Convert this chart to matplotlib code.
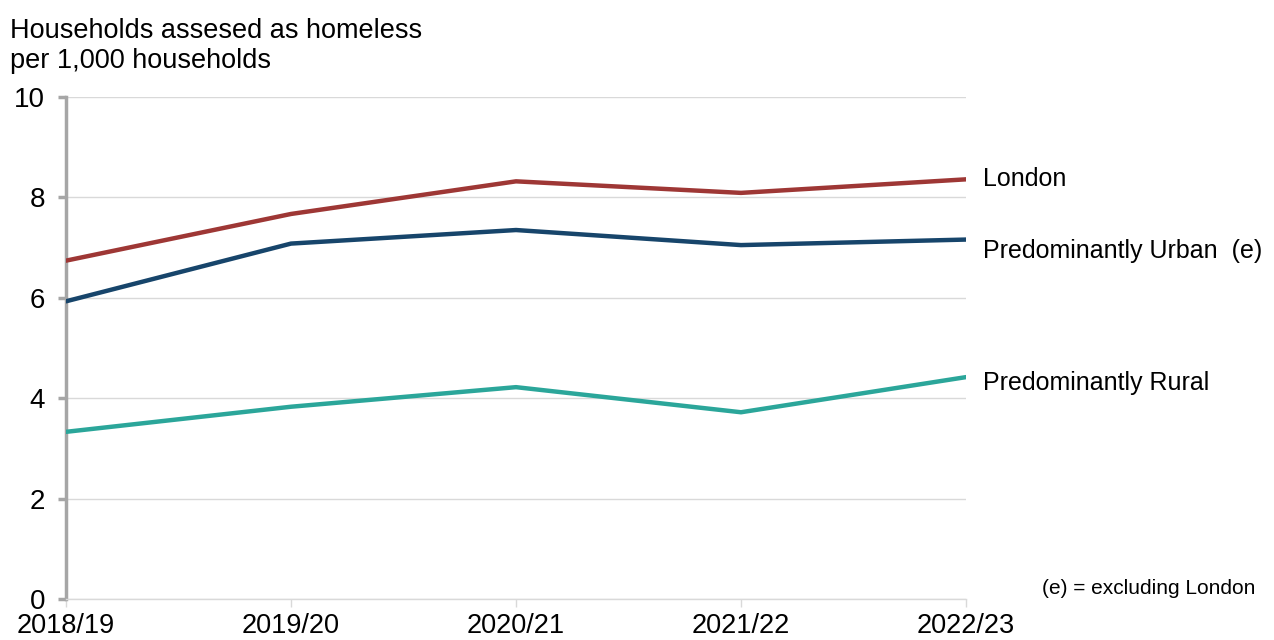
import matplotlib.pyplot as plt

plt.rcParams['font.family'] = ['Liberation Sans', 'DejaVu Sans']

# data
years = ["2018/19", "2019/20", "2020/21", "2021/22", "2022/23"]
london = [6.74, 7.67, 8.32, 8.09, 8.36]
urban = [5.93, 7.08, 7.35, 7.05, 7.16]
rural = [3.33, 3.83, 4.22, 3.72, 4.42]

series = [
    ("London", london, "#9E3735", 0),
    ("Predominantly Urban  (e)", urban, "#17456B", -8),
    ("Predominantly Rural", rural, "#2BA69A", -4),
]

fig = plt.figure(figsize=(12.74, 6.4), dpi=100)
ax = fig.add_axes([66 / 1274, 1 - 599 / 640, 900 / 1274, 502 / 640])

x = list(range(len(years)))
for name, vals, col, dy in series:
    ax.plot(x, vals, color=col, lw=3.2, solid_capstyle='round', zorder=3)
    ax.annotate(name, xy=(x[-1], vals[-1]), xytext=(12, dy), textcoords='offset points',
                va='center', ha='left', fontsize=18, color='black', annotation_clip=False)

ax.set_xlim(0, len(years) - 1)
ax.set_ylim(0, 10)
ax.set_yticks([0, 2, 4, 6, 8, 10])
ax.set_xticks(x)
ax.set_xticklabels(years)
ax.grid(axis='y', color='#D9D9D9', lw=1)
ax.set_axisbelow(True)

for s in ['top', 'right']:
    ax.spines[s].set_visible(False)
ax.spines['left'].set_color('#A6A6A6')
ax.spines['left'].set_linewidth(2.5)
ax.spines['bottom'].set_color('#D9D9D9')
ax.spines['bottom'].set_linewidth(1)
ax.tick_params(axis='y', colors='#A6A6A6', width=2.5, length=6, labelcolor='black',
               labelsize=20, pad=9)
ax.tick_params(axis='x', colors='#D9D9D9', width=1, length=6, labelcolor='black',
               labelsize=19.5, pad=4)

fig.text(10 / 1274, 1 - 18 / 640, "Households assesed as homeless\nper 1,000 households",
         ha='left', va='top', fontsize=19.5, linespacing=1.2)
fig.text(1255 / 1274, 1 - 588 / 640, "(e) = excluding London", ha='right', va='center',
         fontsize=15)

fig.savefig("out.png", dpi=100)
